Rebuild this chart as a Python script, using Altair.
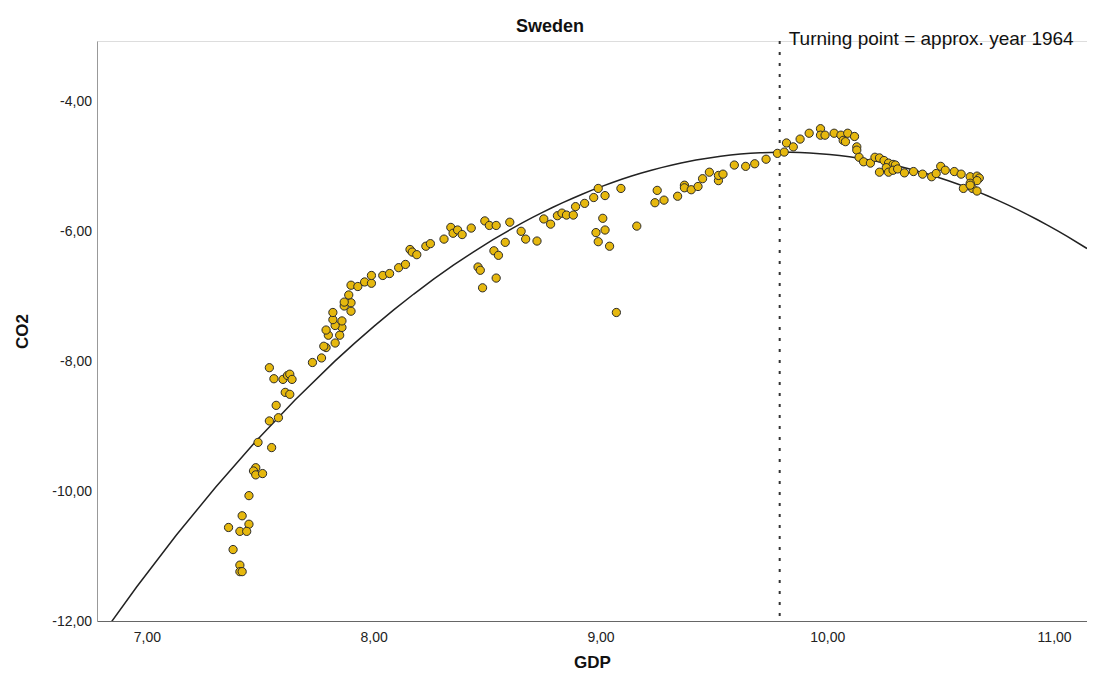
import altair as alt
import pandas as pd

# ---- data ----
gdp = [
    7.54, 7.56, 7.60, 7.62, 7.63, 7.64, 7.61, 7.63, 7.57, 7.54, 7.58, 7.49, 7.55, 7.48, 7.47,
    7.48, 7.51, 7.45, 7.42, 7.45, 7.36, 7.41, 7.44, 7.38, 7.41, 7.41, 7.42, 7.73, 7.77,
    7.79, 7.78, 7.83, 7.85, 7.80, 7.79, 7.86, 7.86, 7.83, 7.82, 7.82, 7.90, 7.87, 7.90, 7.87,
    7.89, 7.90, 7.93, 7.96, 7.99, 7.99, 8.04, 8.07, 8.11, 8.14, 8.16, 8.17, 8.19, 8.23, 8.25,
    8.31, 8.34, 8.35, 8.37, 8.39,
    8.43, 8.49, 8.51, 8.54, 8.60, 8.65, 8.67, 8.72, 8.58, 8.53, 8.55, 8.46, 8.47, 8.54, 8.48,
    8.75, 8.78, 8.81, 8.83, 8.85, 8.88, 8.89, 8.93, 8.97, 8.99, 9.02, 9.09, 9.01, 8.98, 9.02,
    8.99, 9.04, 9.16, 9.07,
    9.25, 9.24, 9.28, 9.34, 9.37, 9.37, 9.40, 9.43, 9.45, 9.48, 9.52, 9.52, 9.54, 9.59, 9.64,
    9.68, 9.73, 9.78, 9.81, 9.82, 9.85, 9.88, 9.92, 9.97, 9.97,
    9.99, 10.03, 10.06, 10.07, 10.08, 10.09, 10.12, 10.13, 10.13, 10.14, 10.16, 10.19, 10.21,
    10.23, 10.25, 10.27, 10.29, 10.30, 10.26, 10.23, 10.27, 10.29, 10.31, 10.34, 10.38, 10.42,
    10.46, 10.48, 10.50, 10.52, 10.56,
    10.59, 10.63, 10.66, 10.67, 10.66, 10.63, 10.60, 10.64, 10.66, 10.63,
]
co2 = [
    -8.10, -8.27, -8.28, -8.22, -8.20, -8.28, -8.48, -8.51, -8.68, -8.92, -8.87, -9.25, -9.33,
    -9.64, -9.69, -9.75, -9.73, -10.07, -10.38, -10.51, -10.56, -10.62, -10.62, -10.90, -11.14,
    -11.24, -11.24, -8.02, -7.95,
    -7.79, -7.77, -7.72, -7.60, -7.60, -7.52, -7.48, -7.38, -7.45, -7.36, -7.25, -7.23, -7.15,
    -7.10, -7.09, -6.98, -6.83, -6.85, -6.78, -6.80, -6.68, -6.68, -6.65, -6.56, -6.51, -6.28,
    -6.32, -6.36, -6.23, -6.19, -6.12, -5.94, -6.03, -5.98, -6.05,
    -5.95, -5.84, -5.91, -5.91, -5.86, -6.00, -6.12, -6.15, -6.17, -6.30, -6.37, -6.55, -6.60,
    -6.72, -6.87, -5.81, -5.89, -5.76, -5.72, -5.75, -5.75, -5.62, -5.57, -5.48, -5.34, -5.45,
    -5.34, -5.80, -6.02, -5.98, -6.16, -6.23, -5.92, -7.25,
    -5.37, -5.56, -5.52, -5.46, -5.29, -5.33, -5.36, -5.31, -5.19, -5.09, -5.22, -5.14, -5.12,
    -4.98, -5.00, -4.96, -4.89, -4.80, -4.78, -4.64, -4.70, -4.58, -4.49, -4.42, -4.52,
    -4.52, -4.49, -4.52, -4.60, -4.62, -4.49, -4.54, -4.70, -4.75, -4.86, -4.93, -4.95, -4.86,
    -4.87, -4.91, -4.95, -4.97, -4.98, -5.02, -5.09, -5.09, -5.06, -5.04, -5.10, -5.08, -5.12,
    -5.16, -5.11, -5.00, -5.06, -5.08,
    -5.12, -5.16, -5.15, -5.18, -5.22, -5.26, -5.34, -5.34, -5.38, -5.29,
]

x_domain = [6.78, 11.145]
y_domain = [-12.0, -3.07]
x_ticks = [7, 8, 9, 10, 11]
y_ticks = [-4, -6, -8, -10, -12]
turning_point_gdp = [9.79]
annotation_text = ["Turning point = approx. year 1964"]
chart_title = "Sweden"

df = pd.DataFrame({"GDP": gdp, "CO2": co2})
tp = pd.DataFrame({"GDP": turning_point_gdp, "label": annotation_text})

FONT = "Liberation Sans"
label_expr = ("datum.value < 0 ? '-' + replace(format(-datum.value, '.2f'), '.', ',') "
              ": replace(format(datum.value, '.2f'), '.', ',')")

x_scale = alt.Scale(domain=x_domain, nice=False, zero=False)
y_scale = alt.Scale(domain=y_domain, nice=False, zero=False)

x_axis = alt.Axis(values=x_ticks, labelExpr=label_expr, ticks=False, grid=False,
                  domainColor="#666666", domainWidth=1, labelFontSize=14, labelColor="#222222",
                  labelPadding=9, labelFlush=False, labelFont=FONT,
                  title="GDP", titleFont=FONT, titleFontSize=17, titleFontWeight="bold",
                  titleColor="#111111", titleY=41, titleBaseline="middle")
y_axis = alt.Axis(values=y_ticks, labelExpr=label_expr, ticks=False, grid=False,
                  domainColor="#999999", domainWidth=1, labelFontSize=14, labelColor="#222222",
                  labelPadding=5.5, labelFlush=False, labelFont=FONT,
                  title="CO2", titleFont=FONT, titleFontSize=17, titleFontWeight="bold",
                  titleColor="#111111", titleX=-75, titleY=290, titleBaseline="middle")

base = alt.Chart(df)

curve = base.transform_regression(
    "GDP", "CO2", method="poly", order=2, extent=x_domain
).mark_line(clip=True, color="#222222", strokeWidth=1.5).encode(
    x=alt.X("GDP:Q", scale=x_scale, axis=x_axis),
    y=alt.Y("CO2:Q", scale=y_scale, axis=y_axis),
)

rule = alt.Chart(tp).mark_rule(color="#333333", strokeWidth=2, strokeDash=[3, 8]).encode(
    x=alt.X("GDP:Q", scale=x_scale)
)

note = alt.Chart(tp).mark_text(align="left", baseline="middle", dx=9, fontSize=19,
                               font=FONT, color="#111111").encode(
    x=alt.X("GDP:Q", scale=x_scale),
    y=alt.value(-2),
    text="label:N",
)

points = base.mark_point(shape="circle", filled=True, size=68, fill="#E6B80E",
                         stroke="#2b2b2b", strokeWidth=1, opacity=1).encode(
    x=alt.X("GDP:Q", scale=x_scale),
    y=alt.Y("CO2:Q", scale=y_scale),
)

chart = alt.layer(curve, rule, points, note).properties(
    width=990,
    height=580,
    title=alt.TitleParams(chart_title, font=FONT, fontSize=18, fontWeight="bold",
                          color="#111111", anchor="middle", frame="bounds", offset=8, dy=14),
    autosize=alt.AutoSizeParams(type="none"),
    padding={"left": 89, "top": 33, "right": 0, "bottom": 49},
).configure_view(stroke=None).configure(background="white")

chart.save("out.html", embed_options={"renderer": "svg", "actions": False})
